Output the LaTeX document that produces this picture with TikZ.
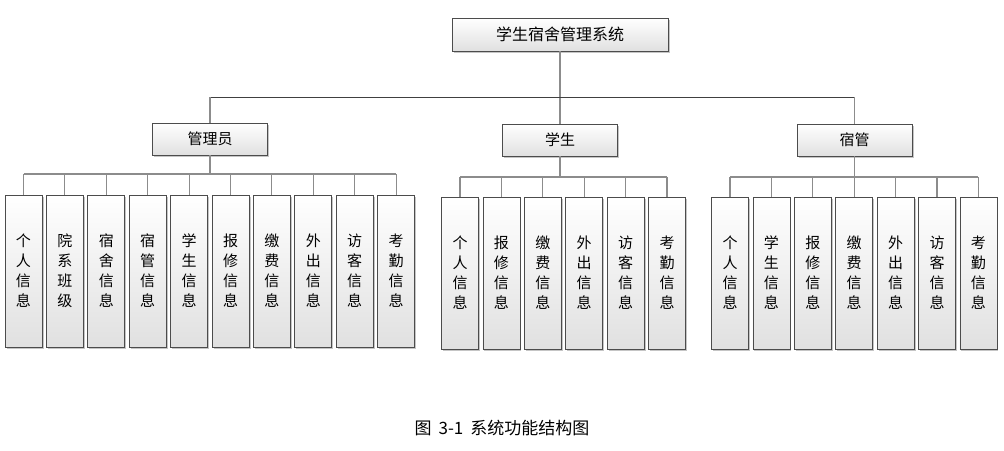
\documentclass[tikz,border=0pt]{standalone}
\usepackage{fontspec}
\newfontfamily\cjk{Noto Sans CJK SC}
\usetikzlibrary{shadows}

\begin{document}
\begin{tikzpicture} [x=1pt, y=-1pt,
  box/.style={draw=black!70, line width=0.8pt, top color=white, bottom color=black!12,
    drop shadow={shadow xshift=1.5pt, shadow yshift=-1.5pt, fill=black!45, opacity=.5},
    inner sep=0pt, align=center, font=\cjk\fontsize{15}{20}\selectfont},
  leaf/.style={box, minimum width=37pt, minimum height=152pt},
  role/.style={box, minimum width=115pt, minimum height=32pt},
  link/.style={draw=black!45, line width=1.1pt},
  trunk/.style={draw=black!75, line width=0.8pt}]

\useasboundingbox (0,0) rectangle (1004,450);

\node [box, minimum width=216pt, minimum height=33pt, font=\cjk\fontsize{16}{20}\selectfont] (sys) at (560,34.5) {学生宿舍管理系统};

\node [role] (admin) at (210,139) {管理员};
\node [role] (stu) at (560,140) {学生};
\node [role] (mgr) at (854.5,140) {宿管};

\coordinate (bus) at (560,97);
\coordinate (abus) at (210,174);
\coordinate (sbus) at (560,177);
\coordinate (mbus) at (854.5,177);

\foreach \t [count=\i] in {个\\人\\信\\息, 院\\系\\班\\级, 宿\\舍\\信\\息, 宿\\管\\信\\息, 学\\生\\信\\息,
  报\\修\\信\\息, 缴\\费\\信\\息, 外\\出\\信\\息, 访\\客\\信\\息, 考\\勤\\信\\息}
  \node [leaf] (a\i) at ({23.5+41.4*(\i-1)},271) {\t};

\foreach \t [count=\i] in {个\\人\\信\\息, 报\\修\\信\\息, 缴\\费\\信\\息, 外\\出\\信\\息,
  访\\客\\信\\息, 考\\勤\\信\\息}
  \node [leaf] (s\i) at ({460+41.4*(\i-1)},273) {\t};

\foreach \t [count=\i] in {个\\人\\信\\息, 学\\生\\信\\息, 报\\修\\信\\息, 缴\\费\\信\\息,
  外\\出\\信\\息, 访\\客\\信\\息, 考\\勤\\信\\息}
  \node [leaf] (m\i) at ({730+41.4*(\i-1)},273) {\t};

\draw [link] (sys.south) -- (stu.north);
\draw [trunk] (admin.north |- bus) -- (mgr.north |- bus);
\draw [link] (admin.north) -- (admin.north |- bus);
\draw [link] (mgr.north) -- (mgr.north |- bus);

\draw [link] (admin.south) -- (abus);
\draw [link] (a1.north |- abus) -- (a10.north |- abus);
\foreach \i in {1,...,10}
  \draw [link] (a\i.north) -- (a\i.north |- abus);

\draw [link] (stu.south) -- (sbus);
\draw [link] (s1.north |- sbus) -- (s6.north |- sbus);
\foreach \i in {1,...,6}
  \draw [link] (s\i.north) -- (s\i.north |- sbus);

\draw [link] (mgr.south) -- (mbus);
\draw [link] (m1.north |- mbus) -- (m7.north |- mbus);
\foreach \i in {1,...,7}
  \draw [link] (m\i.north) -- (m\i.north |- mbus);

\node [font=\cjk\fontsize{17}{20}\selectfont] (cap) at (502,428) {图\hspace{7pt}3-1\hspace{7pt}系统功能结构图};

\end{tikzpicture}
\end{document}
